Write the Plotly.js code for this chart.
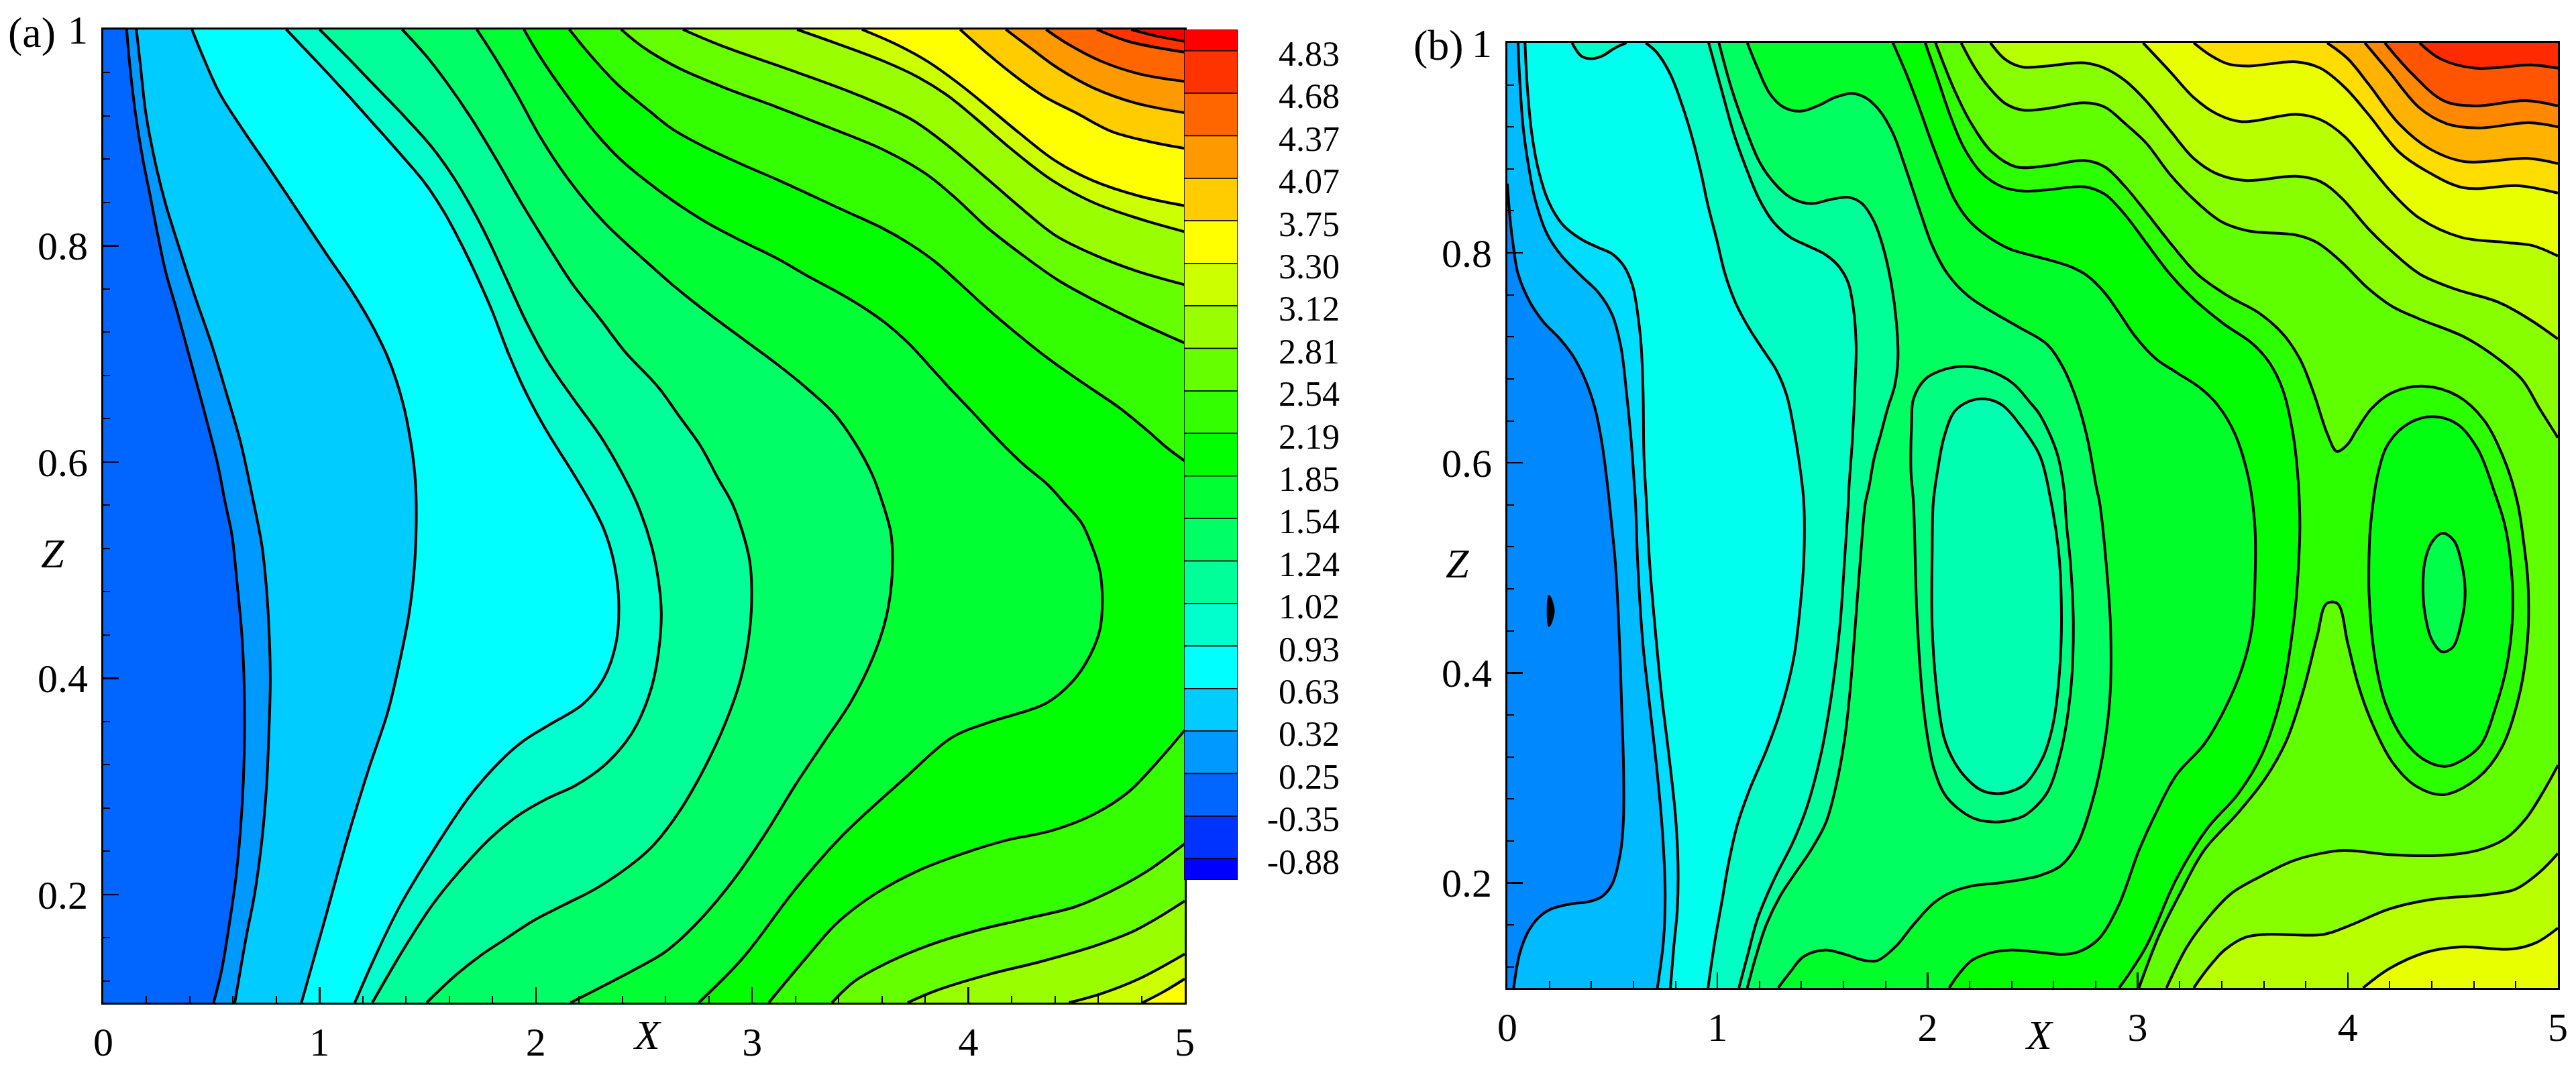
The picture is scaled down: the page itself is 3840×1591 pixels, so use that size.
<!DOCTYPE html>
<html><head><meta charset="utf-8">
<script src="https://cdn.plot.ly/plotly-3.0.1.min.js"></script>
<style>html,body{margin:0;padding:0;background:#fff}</style></head>
<body><div id="chart" style="width:3840px;height:1591px"></div>
<script>
// ---------- colour-scale data ----------
const levelLabels = ['4.83','4.68','4.37','4.07','3.75','3.30','3.12','2.81','2.54','2.19','1.85','1.54','1.24','1.02','0.93','0.63','0.32','0.25','-0.35','-0.88'];
const bandColors = ['#ff0000','#ff3300','#ff6600','#ff9900','#ffcc00','#ffff00','#ccff00','#99ff00','#66ff00','#33ff00','#00ff00','#00ff33','#00ff66','#00ff99','#00ffcc','#00ffff','#00ccff','#0099ff','#0066ff','#0033ff','#0000ff'];

// ---------- panel (a) contour lines, [X, Z] ----------
const a01=[[.108,1],[.124,.964],[.149,.922],[.181,.882],[.214,.849],[.246,.816],[.287,.777],[.343,.738],[.392,.702],[.441,.666],[.489,.63],[.53,.597],[.562,.564],[.595,.532],[.619,.487],[.64,.442],[.65,.403],[.653,.352],[.648,.307],[.635,.262],[.614,.217],[.586,.177],[.546,.129],[.51,.1]];
const a02=[[.153,1],[.173,.964],[.197,.922],[.238,.879],[.286,.84],[.351,.798],[.424,.753],[.497,.711],[.57,.663],[.635,.618],[.684,.573],[.733,.523],[.754,.484],[.768,.436],[.772,.397],[.765,.346],[.754,.298],[.733,.25],[.7,.201],[.66,.16],[.608,.1]];
const a03=[[.41,1],[.465,.973],[.538,.941],[.643,.908],[.773,.87],[.903,.831],[1.033,.792],[1.146,.759],[1.236,.729],[1.317,.696],[1.382,.657],[1.422,.618],[1.443,.582],[1.447,.544],[1.438,.502],[1.414,.46],[1.373,.418],[1.317,.37],[1.227,.316],[1.13,.253],[1.033,.183],[.916,.1]];
const a04=[[.846,1],[.984,.971],[1.114,.943],[1.244,.914],[1.373,.885],[1.487,.858],[1.576,.831],[1.649,.804],[1.722,.774],[1.795,.741],[1.876,.699],[1.957,.663],[2.055,.627],[2.168,.591],[2.254,.562],[2.314,.538],[2.36,.508],[2.383,.472],[2.371,.433],[2.314,.4],[2.217,.376],[2.071,.358],[1.949,.343],[1.844,.325],[1.698,.292],[1.536,.244],[1.373,.19],[1.26,.144],[1.163,.1]];
const a05=[[1.0,1],[1.13,.974],[1.26,.947],[1.39,.92],[1.52,.891],[1.617,.864],[1.698,.837],[1.779,.806],[1.86,.771],[1.957,.729],[2.055,.693],[2.168,.66],[2.298,.624],[2.395,.591],[2.469,.561],[2.534,.523],[2.567,.49],[2.58,.46],[2.567,.424],[2.534,.391],[2.469,.358],[2.412,.34],[2.314,.319],[2.184,.301],[2.055,.289],[1.925,.274],[1.795,.253],[1.649,.222],[1.52,.19],[1.39,.15],[1.244,.1]];
const a06=[[1.382,1],[1.487,.977],[1.584,.952],[1.698,.919],[1.811,.882],[1.941,.837],[2.071,.795],[2.168,.765],[2.298,.732],[2.412,.702],[2.567,.669],[2.664,.642],[2.761,.615],[2.842,.585],[2.907,.562],[2.956,.535],[2.989,.508],[2.998,.481],[2.989,.445],[2.948,.4],[2.875,.358],[2.777,.316],[2.664,.277],[2.55,.247],[2.469,.232],[2.282,.206],[2.136,.191],[1.99,.176],[1.86,.159],[1.747,.144],[1.633,.126],[1.495,.1]];
const a07=[[1.727,1],[1.811,.974],[1.909,.941],[2.022,.9],[2.152,.861],[2.314,.822],[2.523,.783],[2.631,.764],[2.794,.738],[2.956,.714],[3.118,.69],[3.248,.669],[3.378,.645],[3.475,.618],[3.556,.588],[3.605,.561],[3.641,.535],[3.649,.511],[3.641,.481],[3.613,.451],[3.556,.418],[3.459,.379],[3.329,.34],[3.199,.301],[3.07,.259],[2.923,.216],[2.761,.177],[2.599,.147],[2.469,.132],[2.298,.114],[2.16,.1]];
const a08=[[1.945,1],[2.022,.974],[2.136,.941],[2.282,.903],[2.395,.879],[2.523,.858],[2.631,.842],[2.794,.821],[2.956,.804],[3.118,.788],[3.248,.773],[3.378,.759],[3.506,.744],[3.62,.728],[3.717,.711],[3.815,.69],[3.896,.672],[4.01,.648],[4.14,.62],[4.253,.598],[4.367,.579],[4.448,.561],[4.522,.544],[4.57,.523],[4.608,.499],[4.619,.472],[4.608,.445],[4.562,.421],[4.481,.397],[4.36,.377],[4.092,.359],[3.93,.346],[3.686,.304],[3.41,.253],[3.2,.205],[2.956,.141],[2.753,.1]];
const a09=[[2.155,1],[2.249,.977],[2.379,.949],[2.523,.925],[2.631,.908],[2.794,.89],[2.956,.875],[3.118,.861],[3.281,.846],[3.443,.831],[3.605,.816],[3.735,.801],[3.848,.785],[3.961,.765],[4.092,.741],[4.222,.719],[4.367,.696],[4.53,.673],[4.692,.651],[4.822,.63],[4.919,.613],[5,.601]];
const a10=[[2.395,1],[2.46,.989],[2.523,.98],[2.664,.964],[2.875,.946],[3.118,.928],[3.361,.909],[3.605,.889],[3.8,.867],[3.93,.846],[4.092,.816],[4.253,.791],[4.416,.768],[4.578,.75],[4.789,.729],[5,.71]];
const a11=[[2.68,1],[2.858,.985],[3.199,.961],[3.507,.938],[3.735,.917],[3.896,.894],[4.092,.861],[4.237,.836],[4.399,.81],[4.578,.792],[4.773,.777],[5,.764]];
const a12=[[3.208,1],[3.378,.988],[3.605,.971],[3.767,.956],[3.896,.94],[4.027,.919],[4.189,.891],[4.384,.861],[4.578,.84],[4.789,.825],[5,.813]];
const a13=[[3.508,1],[3.669,.986],[3.815,.97],[3.962,.949],[4.092,.928],[4.237,.904],[4.399,.879],[4.578,.86],[4.789,.846],[5,.837]];
const a14=[[3.962,1],[4.092,.977],[4.222,.956],[4.351,.938],[4.497,.923],[4.659,.906],[4.821,.897],[5,.89]];
const a15=[[4.173,1],[4.286,.983],[4.416,.964],[4.578,.946],[4.773,.932],[5,.923]];
const a16=[[4.359,1],[4.465,.986],[4.61,.971],[4.789,.959],[5,.952]];
const a17=[[4.594,1],[4.74,.989],[5,.979]];
const a18=[[4.753,1],[4.869,.994],[5,.989]];
const aB1=[[3.077,.1],[3.248,.141],[3.394,.174],[3.572,.201],[3.767,.222],[3.962,.237],[4.173,.25],[4.384,.259],[4.578,.274],[4.741,.295],[4.871,.322],[5,.352]];
const aB2=[[3.369,.1],[3.475,.12],[3.637,.138],[3.816,.153],[4.043,.167],[4.254,.177],[4.498,.189],[4.659,.203],[4.822,.221],[5,.247]];
const aB3=[[3.719,.1],[3.848,.111],[4.092,.126],[4.335,.138],[4.578,.152],[4.773,.167],[5,.194]];
const aB4=[[4.465,.1],[4.61,.108],[4.789,.122],[5,.145]];
const aB5=[[4.805,.1],[4.902,.11],[5,.122]];

// ---------- panel (b) contour lines ----------
const b01=[[0,.866],[.014,.83],[.03,.804],[.051,.78],[.108,.753],[.173,.734],[.246,.719],[.312,.702],[.369,.68],[.417,.652],[.45,.619],[.474,.583],[.496,.542],[.515,.502],[.531,.443],[.544,.368],[.553,.309],[.553,.264],[.54,.231],[.499,.199],[.45,.187],[.385,.182],[.303,.18],[.206,.175],[.149,.167],[.1,.154],[.059,.133],[.03,.1]];
const bDot=[[.198,.473],[.219,.459],[.198,.445],[.198,.473]];
const b02=[[.051,1],[.059,.964],[.075,.92],[.1,.884],[.132,.851],[.189,.818],[.255,.798],[.352,.778],[.434,.762],[.499,.741],[.54,.711],[.567,.667],[.589,.622],[.605,.577],[.61,.562],[.621,.502],[.645,.428],[.678,.368],[.711,.309],[.738,.249],[.751,.19],[.743,.145],[.714,.1]];
const b03=[[.084,1],[.095,.958],[.116,.914],[.149,.878],[.198,.848],[.263,.827],[.352,.813],[.434,.805],[.499,.799],[.556,.787],[.597,.768],[.621,.741],[.637,.711],[.646,.667],[.65,.607],[.662,.562],[.678,.502],[.703,.443],[.735,.377],[.768,.323],[.8,.264],[.812,.219],[.809,.175],[.792,.139],[.776,.1]];
const bArc=[[.308,1],[.352,.9875],[.401,.985],[.45,.9875],[.515,.9955],[.567,1]];
const b04=[[.659,1],[.711,.991],[.776,.97],[.833,.94],[.882,.908],[.923,.875],[.955,.845],[.996,.813],[1.036,.78],[1.085,.753],[1.151,.728],[1.216,.708],[1.281,.688],[1.33,.664],[1.362,.634],[1.395,.592],[1.411,.562],[1.411,.508],[1.395,.466],[1.362,.413],[1.297,.362],[1.232,.326],[1.151,.288],[1.094,.255],[1.053,.219],[1.02,.181],[.988,.145],[.955,.1]];
const b05=[[.958,1],[1.02,.955],[1.077,.914],[1.142,.878],[1.199,.851],[1.264,.83],[1.346,.815],[1.427,.807],[1.517,.798],[1.582,.786],[1.623,.771],[1.647,.747],[1.66,.711],[1.655,.676],[1.642,.622],[1.626,.577],[1.623,.562],[1.606,.511],[1.582,.443],[1.541,.377],[1.493,.323],[1.427,.273],[1.362,.24],[1.264,.201],[1.191,.166],[1.142,.13],[1.102,.1]];
const b06=[[1.007,1],[1.069,.955],[1.142,.914],[1.199,.887],[1.264,.868],[1.346,.853],[1.444,.847],[1.541,.851],[1.623,.853],[1.688,.847],[1.745,.83],[1.786,.807],[1.827,.771],[1.851,.735],[1.859,.699],[1.843,.673],[1.81,.652],[1.778,.628],[1.745,.604],[1.721,.577],[1.704,.562],[1.68,.508],[1.655,.443],[1.631,.383],[1.606,.338],[1.566,.294],[1.517,.258],[1.444,.231],[1.362,.207],[1.297,.187],[1.232,.16],[1.183,.13],[1.142,.1]];
const b07=[[1.142,1],[1.191,.976],[1.248,.952],[1.313,.939],[1.395,.935],[1.476,.94],[1.558,.948],[1.639,.952],[1.704,.948],[1.77,.936],[1.835,.914],[1.9,.878],[1.965,.839],[2.022,.807],[2.095,.78],[2.193,.759],[2.307,.744],[2.437,.729],[2.568,.713],[2.647,.69],[2.713,.658],[2.762,.622],[2.803,.577],[2.819,.562],[2.851,.502],[2.871,.443],[2.868,.377],[2.835,.323],[2.786,.279],[2.713,.237],[2.632,.216],[2.534,.207],[2.469,.204],[2.34,.2],[2.209,.197],[2.112,.191],[2.03,.181],[1.932,.16],[1.851,.14],[1.761,.126],[1.704,.126],[1.606,.132],[1.509,.136],[1.411,.13],[1.346,.115],[1.289,.1]];
const b08=[[1.835,1],[1.9,.97],[1.957,.94],[2.014,.908],[2.071,.878],[2.128,.851],[2.201,.83],[2.291,.815],[2.389,.804],[2.469,.799],[2.566,.794],[2.679,.787],[2.762,.778],[2.843,.762],[2.908,.744],[2.99,.72],[3.088,.699],[3.186,.686],[3.3,.671],[3.381,.655],[3.462,.628],[3.527,.586],[3.557,.542],[3.56,.502],[3.544,.443],[3.496,.404],[3.413,.365],[3.316,.332],[3.185,.303],[3.088,.267],[3.006,.231],[2.908,.178],[2.811,.146],[2.713,.134],[2.632,.132],[2.534,.134],[2.389,.136],[2.291,.133],[2.209,.126],[2.144,.112],[2.103,.1]];
const b09=[[1.989,1],[2.046,.967],[2.111,.929],[2.176,.899],[2.258,.876],[2.355,.863],[2.453,.859],[2.566,.86],[2.746,.863],[2.843,.856],[2.941,.836],[3.039,.81],[3.153,.78],[3.267,.756],[3.413,.732],[3.544,.714],[3.625,.696],[3.69,.67],[3.739,.628],[3.764,.583],[3.772,.542],[3.769,.517],[3.755,.472],[3.739,.443],[3.69,.383],[3.593,.323],[3.479,.285],[3.332,.252],[3.185,.204],[3.039,.139],[2.912,.1]];
const b10=[[2.038,1],[2.128,.955],[2.209,.923],[2.307,.896],[2.421,.882],[2.566,.883],[2.746,.888],[2.843,.882],[2.941,.863],[3.039,.839],[3.153,.81],[3.283,.78],[3.43,.759],[3.576,.743],[3.69,.723],[3.772,.699],[3.837,.667],[3.902,.628],[3.948,.611],[4,.618],[4.041,.631],[4.114,.652],[4.212,.667],[4.366,.673],[4.521,.664],[4.651,.64],[4.749,.601],[4.808,.562],[4.84,.52],[4.858,.485],[4.855,.43],[4.814,.377],[4.733,.329],[4.619,.3],[4.456,.284],[4.326,.292],[4.212,.315],[4.114,.353],[4.049,.389],[4,.428],[3.951,.466],[3.899,.466],[3.853,.434],[3.788,.383],[3.707,.335],[3.609,.3],[3.479,.267],[3.316,.231],[3.202,.19],[3.104,.151],[3.006,.1]];
const b11=[[2.16,1],[2.226,.976],[2.291,.958],[2.372,.942],[2.454,.936],[2.566,.9375],[2.746,.943],[2.843,.939],[2.941,.923],[3.039,.905],[3.153,.875],[3.267,.851],[3.397,.83],[3.527,.821],[3.755,.817],[3.853,.81],[3.967,.792],[4.098,.766],[4.212,.749],[4.342,.737],[4.554,.72],[4.717,.699],[4.831,.679],[4.912,.652],[5,.624]];
const b12=[[2.299,1],[2.372,.984],[2.454,.977],[2.566,.978],[2.746,.981],[2.843,.976],[2.941,.964],[3.039,.945],[3.153,.917],[3.267,.89],[3.381,.875],[3.511,.869],[3.755,.873],[3.869,.868],[3.967,.853],[4.098,.823],[4.212,.801],[4.342,.78],[4.505,.766],[4.717,.753],[4.863,.737],[5,.718]];
const b13=[[3.026,1],[3.153,.973],[3.267,.948],[3.381,.932],[3.495,.925],[3.755,.932],[3.869,.927],[3.984,.911],[4.098,.884],[4.212,.857],[4.342,.833],[4.537,.815],[4.749,.81],[4.879,.807],[5,.797]];
const b14=[[3.267,1],[3.348,.988],[3.43,.98],[3.527,.978],[3.755,.982],[3.869,.976],[3.984,.958],[4.098,.932],[4.244,.896],[4.374,.878],[4.554,.862],[4.814,.864],[5,.857]];
const b15=[[3.902,1],[4,.985],[4.098,.961],[4.244,.923],[4.391,.899],[4.554,.887],[4.863,.89],[5,.885]];
const b16=[[4.081,1],[4.195,.973],[4.342,.938],[4.472,.923],[4.619,.919],[4.863,.924],[5,.92]];
const b17=[[4.176,1],[4.309,.97],[4.456,.945],[4.603,.94],[4.847,.945],[5,.94]];
const b18=[[4.342,1],[4.44,.985],[4.603,.976],[4.879,.979],[5,.976]];
const bD1=[[3.137,.1],[3.234,.139],[3.332,.166],[3.446,.19],[3.593,.207],[3.739,.221],[3.87,.228],[3.984,.231],[4.195,.227],[4.423,.226],[4.619,.231],[4.749,.242],[4.847,.261],[4.928,.286],[5,.312]];
const bD2=[[3.267,.1],[3.332,.118],[3.413,.136],[3.511,.148],[3.609,.151],[3.886,.151],[4.016,.16],[4.195,.175],[4.391,.184],[4.668,.189],[4.798,.194],[4.912,.21],[5,.228]];
const bD3=[[4.073,.1],[4.195,.118],[4.374,.134],[4.537,.139],[4.782,.137],[4.896,.143],[5,.157]];
const bOuter=[[1.924,.637],[1.933,.661],[1.99,.68],[2.079,.689],[2.177,.692],[2.291,.688],[2.405,.676],[2.486,.658],[2.534,.646],[2.615,.61],[2.648,.577],[2.661,.542],[2.681,.502],[2.694,.443],[2.681,.383],[2.632,.323],[2.566,.285],[2.469,.265],[2.421,.261],[2.323,.258],[2.226,.261],[2.144,.271],[2.079,.285],[2.03,.309],[1.998,.341],[1.973,.383],[1.949,.457],[1.933,.562],[1.921,.592],[1.924,.637]];
const bInner=[[2.047,.592],[2.079,.625],[2.128,.649],[2.201,.659],[2.274,.661],[2.356,.655],[2.437,.637],[2.534,.607],[2.583,.568],[2.623,.517],[2.636,.472],[2.632,.413],[2.599,.353],[2.55,.32],[2.469,.295],[2.421,.289],[2.34,.285],[2.258,.288],[2.193,.298],[2.128,.315],[2.079,.338],[2.047,.377],[2.022,.443],[2.022,.517],[2.027,.562],[2.047,.592]];
const bRingOut=[[4.109,.542],[4.146,.592],[4.195,.619],[4.293,.638],[4.407,.644],[4.521,.637],[4.619,.613],[4.7,.571],[4.746,.542],[4.774,.508],[4.785,.458],[4.757,.407],[4.7,.365],[4.635,.332],[4.554,.318],[4.464,.311],[4.358,.318],[4.26,.338],[4.179,.371],[4.13,.413],[4.102,.472],[4.102,.517],[4.109,.542]];
const bCore=[[4.451,.533],[4.505,.526],[4.55,.496],[4.558,.472],[4.541,.449],[4.502,.425],[4.451,.42],[4.399,.432],[4.366,.458],[4.358,.481],[4.366,.505],[4.399,.524],[4.451,.533]];

// painting order, lowest band first: [line, colour above it, how it closes]
const panelA = [
 [a01,'#0099ff','R'],[a02,'#00ccff','R'],[a03,'#00ffff','R'],[a04,'#00ffcc','R'],[a05,'#00ff99','R'],[a06,'#00ff66','R'],[a07,'#00ff33','R'],[a08,'#00ff00','R'],
 [a09,'#33ff00','TR'],[a10,'#66ff00','TR'],[a11,'#99ff00','TR'],[a12,'#ccff00','TR'],[a13,'#ffff00','TR'],[a14,'#ffcc00','TR'],[a15,'#ff9900','TR'],[a16,'#ff6600','TR'],[a17,'#ff3300','TR'],[a18,'#ff0000','TR'],
 [aB1,'#33ff00','BR'],[aB2,'#66ff00','BR'],[aB3,'#99ff00','BR'],[aB4,'#ccff00','BR'],[aB5,'#ffff00','BR']];
const panelB = [
 [b01,'#0088ff','BL'],[bDot,'#000000','O'],[b02,'#00ddff','R'],[b03,'#00ffee','R'],[bArc,'#00ffc4','T'],[b04,'#00ffc4','R'],[b05,'#00ff99','R'],[b06,'#00ff60','R'],[b07,'#00ff2a','R'],[b08,'#00ff00','R'],[b09,'#2cff00','R'],[b10,'#5fff00','R'],
 [b11,'#88ff00','TR'],[b12,'#b8ff00','TR'],[b13,'#e8ff00','TR'],[b14,'#ffdd00','TR'],[b15,'#ffb300','TR'],[b16,'#ff8800','TR'],[b17,'#ff5500','TR'],[b18,'#ff2a00','TR'],
 [bD1,'#88ff00','BR'],[bD2,'#b8ff00','BR'],[bD3,'#e8ff00','BR'],
 [bOuter,'#00ff80','O'],[bInner,'#00ffb0','O'],[bRingOut,'#00ff10','O'],[bCore,'#00ff48','O']];
const baseA='#0066ff', baseB='#00bbff';

const W=3840,H=1591, FONT='Liberation Serif';
const xs=p=>p.map(q=>q[0]), zs=p=>p.map(q=>q[1]);
function closure(p,kind){
  const a=p[0], e=p[p.length-1], T=1.06, B=.04, Rx=5.6, Lx=-.6;
  if(kind==='R') return [[e[0],B],[Rx,B],[Rx,T],[a[0],T]];
  if(kind==='TR') return [[Rx,e[1]],[Rx,T],[a[0],T]];
  if(kind==='BR') return [[Rx,e[1]],[Rx,B],[a[0],B]];
  if(kind==='BL') return [[e[0],B],[Lx,B],[Lx,a[1]]];
  if(kind==='T') return [[e[0],T],[a[0],T]];
  return [];
}
function panelTraces(list,base,xa,ya){
  const sq=[[-1,0],[6,0],[6,2],[-1,2],[-1,0]];
  const fills=[{type:'scatter',mode:'lines',xaxis:xa,yaxis:ya,x:xs(sq),y:zs(sq),fill:'toself',fillcolor:base,line:{width:0},hoverinfo:'skip'}];
  const lines=[];
  list.forEach(([p,col,kind])=>{
    const poly=p.concat(closure(p,kind));
    fills.push({type:'scatter',mode:'lines',xaxis:xa,yaxis:ya,x:xs(poly),y:zs(poly),fill:'toself',fillcolor:col,line:{width:0,shape:'spline',smoothing:1,simplify:false},hoverinfo:'skip'});
    lines.push({type:'scatter',mode:'lines',xaxis:xa,yaxis:ya,x:xs(p),y:zs(p),line:{color:'#000',width:4,shape:'spline',smoothing:1,simplify:false},hoverinfo:'skip'});
  });
  return fills.concat(lines);
}
// colour bar: 20 levels on equal steps, half-height end bands
const nB=bandColors.length;
const cbBase=bandColors.map((c,i)=> i===nB-1?0:(nB-1-i-.5));
const cbH=bandColors.map((c,i)=> (i===0||i===nB-1)?.5:1);
const cbTicks=levelLabels.map((l,i)=>nB-1-i-.5);
const cbTrace={type:'bar',xaxis:'x3',yaxis:'y3',x:bandColors.map(()=>0),y:cbH,base:cbBase,width:1,marker:{color:bandColors,line:{color:'#000',width:1.5}},hoverinfo:'skip'};

const axCommon={showgrid:false,zeroline:false,showline:true,mirror:true,linecolor:'#000',linewidth:3,ticks:'inside',ticklen:23,tickwidth:2.5,tickcolor:'#000',tickfont:{family:FONT,size:60,color:'#000'}};
const xAx=(d,an)=>Object.assign({},axCommon,{domain:d,anchor:an,range:[0,5],tick0:0,dtick:1,ticklabelstandoff:4,minor:{ticks:'inside',tick0:0,dtick:.2,ticklen:10,tickwidth:2,tickcolor:'#000'}});
const yAx=(d,an)=>Object.assign({},axCommon,{domain:d,anchor:an,range:[.1,1],tick0:.2,dtick:.2,ticklabelstandoff:8,minor:{ticks:'inside',tick0:.2,dtick:.04,ticklen:10,tickwidth:2,tickcolor:'#000'}});
const ann=(t,px,py,size)=>({text:t,xref:'paper',yref:'paper',x:px/W,y:1-py/H,xanchor:'center',yanchor:'middle',showarrow:false,font:{family:FONT,size:size,color:'#000'}});

const layout={width:W,height:H,margin:{l:0,r:0,t:0,b:0},paper_bgcolor:'#fff',plot_bgcolor:'#fff',showlegend:false,barmode:'overlay',
 xaxis:xAx([154/W,1766/W],'y'),yaxis:yAx([(H-1495)/H,(H-44)/H],'x'),
 xaxis2:xAx([2247/W,3813/W],'y2'),yaxis2:yAx([(H-1473)/H,(H-64)/H],'x2'),
 xaxis3:{domain:[1765/W,1845/W],anchor:'y3',range:[-.5,.5],visible:false,fixedrange:true},
 yaxis3:{domain:[(H-1312)/H,(H-44)/H],anchor:'free',position:1997/W,side:'left',range:[0,20],showgrid:false,zeroline:false,showline:false,ticks:'',tickmode:'array',tickvals:cbTicks,ticktext:levelLabels,ticklabelshift:4,tickfont:{family:FONT,size:52,color:'#000'}},
 annotations:[ann('(a)',47,48,64),ann('(b)',2144,68,64),ann('<i>X</i>',965,1543,62),ann('<i>X</i>',3039,1543,62),ann('<i>Z</i>',78,825,62),ann('<i>Z</i>',2172,840,62)]};

const data=[...panelTraces(panelA,baseA,'x','y'),...panelTraces(panelB,baseB,'x2','y2'),cbTrace];
Plotly.newPlot('chart',data,layout,{staticPlot:true,displayModeBar:false});
</script></body></html>
